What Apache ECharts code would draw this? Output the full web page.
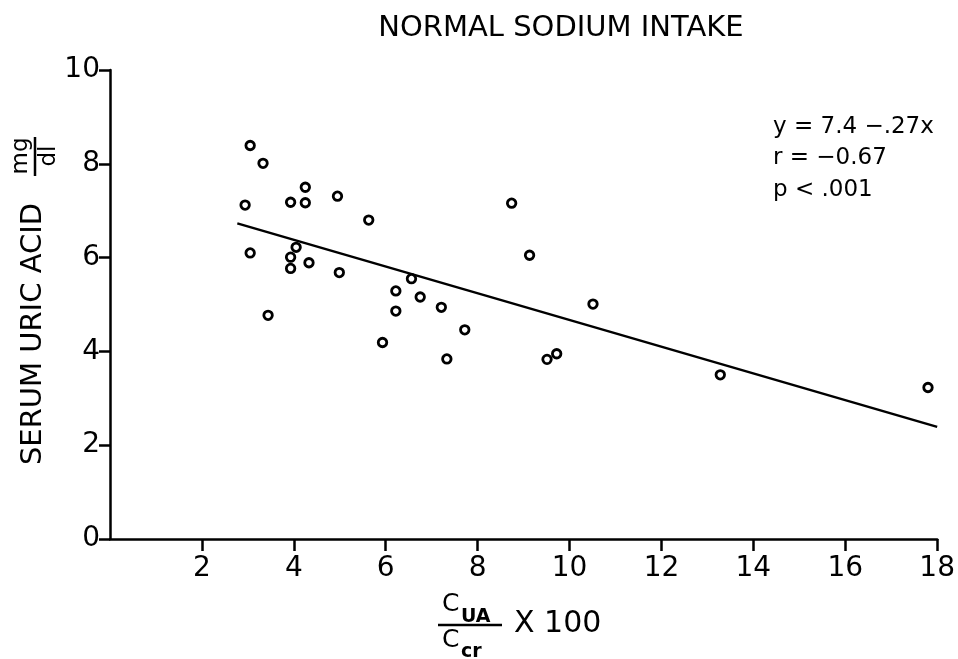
<!DOCTYPE html>
<html>
<head>
<meta charset="utf-8">
<script src="https://cdn.jsdelivr.net/npm/echarts@6/dist/echarts.min.js"></script>
<style>
html,body{margin:0;padding:0;background:#fff;}
#c{width:958px;height:659px;}
</style>
</head>
<body>
<div id="c"></div>
<script>
// ---- data ----
var titleText = 'NORMAL SODIUM INTAKE';
var clearanceRatio = [3.05, 3.33, 2.94, 3.93, 4.25, 4.25, 4.95, 5.63, 3.05, 4.05, 3.93, 3.93, 4.33, 4.99, 3.44, 6.56, 6.22, 6.75, 6.22, 7.21, 5.93, 7.72, 7.33, 8.74, 9.13, 10.51, 9.51, 9.72, 13.28, 17.80];
var serumUricAcid = [8.39, 8.01, 7.12, 7.18, 7.50, 7.17, 7.31, 6.80, 6.10, 6.22, 6.01, 5.77, 5.89, 5.68, 4.77, 5.55, 5.29, 5.16, 4.86, 4.94, 4.19, 4.46, 3.84, 7.16, 6.05, 5.01, 3.83, 3.95, 3.50, 3.23];
var fitX = [2.77, 18];
var fitY = [6.73, 2.39];
var xTicks = [2, 4, 6, 8, 10, 12, 14, 16, 18];
var yTicks = [0, 2, 4, 6, 8, 10];
var statsLines = ['y = 7.4 \u2212.27x', 'r = \u22120.67', 'p < .001'];

// ---- chart ----
var FONT = "'DejaVu Sans', sans-serif";
var chart = echarts.init(document.getElementById('c'), null, {renderer: 'canvas'});

var points = clearanceRatio.map(function (x, i) { return [x, serumUricAcid[i]]; });
var fitLine = fitX.map(function (x, i) { return [x, fitY[i]]; });

function txt(x, y, text, size, opts) {
  opts = opts || {};
  return {
    type: 'text', x: x, y: y, rotation: opts.rotation || 0,
    style: {
      text: text, fontSize: size, fontFamily: FONT, fontWeight: opts.weight || 'normal',
      fill: '#000', align: opts.align || 'left', verticalAlign: 'middle'
    }
  };
}

var graphics = [
  txt(561, 28, titleText, 29, {align: 'center'}),
  // y-axis title (rotated)
  txt(33, 334, 'SERUM URIC ACID', 29, {align: 'center', rotation: Math.PI / 2}),
  txt(21, 156, 'mg', 23, {align: 'center', rotation: Math.PI / 2}),
  {type: 'line', shape: {x1: 35, y1: 137, x2: 35, y2: 176}, style: {stroke: '#000', lineWidth: 2.5}},
  txt(49, 156, 'dl', 23, {align: 'center', rotation: Math.PI / 2}),
  // x-axis title
  txt(442, 604, 'C', 25),
  txt(461, 617, 'UA', 19, {weight: 'bold'}),
  {type: 'line', shape: {x1: 438, y1: 625, x2: 502, y2: 625}, style: {stroke: '#000', lineWidth: 2.5}},
  txt(442, 640, 'C', 25),
  txt(461, 652, 'cr', 19, {weight: 'bold'}),
  txt(514, 624, 'X 100', 30)
];
var statsY = [127, 158, 190];
statsLines.forEach(function (t, i) {
  graphics.push(txt(773, statsY[i], t, 23));
});

chart.setOption({
  backgroundColor: '#fff',
  animation: false,
  grid: {left: 110, right: 13, top: 70, bottom: 120, containLabel: false},
  xAxis: {
    type: 'value', min: 0, max: 18, interval: 2,
    splitLine: {show: false},
    axisLine: {show: true, onZero: false, lineStyle: {color: '#000', width: 2.5}},
    axisTick: {show: true, length: 12, lineStyle: {color: '#000', width: 2.5}, customValues: xTicks},
    axisLabel: {color: '#000', fontSize: 28, fontFamily: FONT, margin: 16, customValues: xTicks}
  },
  yAxis: {
    type: 'value', min: 0, max: 10, interval: 2,
    splitLine: {show: false},
    axisLine: {show: true, onZero: false, lineStyle: {color: '#000', width: 2.5}},
    axisTick: {show: true, length: 11, lineStyle: {color: '#000', width: 2.5}, customValues: yTicks},
    axisLabel: {color: '#000', fontSize: 28, fontFamily: FONT, margin: 10, customValues: yTicks}
  },
  series: [
    {
      type: 'line', data: fitLine, showSymbol: false, symbol: 'none',
      lineStyle: {color: '#000', width: 2.5}, z: 2, silent: true
    },
    {
      type: 'scatter', data: points, symbol: 'circle', symbolSize: 8.5,
      itemStyle: {color: '#fff', borderColor: '#000', borderWidth: 2.8, opacity: 1}, z: 3
    }
  ],
  graphic: graphics
});
</script>
</body>
</html>
